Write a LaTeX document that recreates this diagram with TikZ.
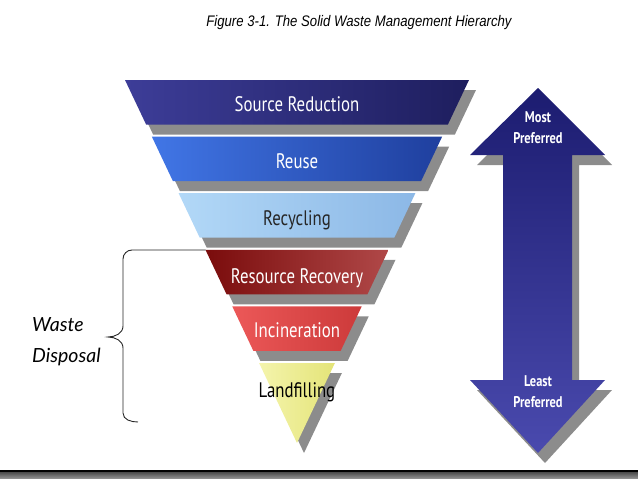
\documentclass[tikz,border=0pt]{standalone}
\usepackage{fontspec}
\setmainfont{Liberation Sans}
\newfontfamily\bandfont[FakeStretch=0.8]{PT Sans}
\newfontfamily\titlefont[FakeStretch=0.86]{Liberation Sans}
\newfontfamily\bracefont{Lato}
\usetikzlibrary{calc,positioning}
\definecolor{wmgray}{HTML}{8C8C8C}
\definecolor{srL}{HTML}{3D3D98}
\definecolor{srR}{HTML}{1E1E5E}
\definecolor{ruL}{HTML}{4176E6}
\definecolor{ruR}{HTML}{1F3F9E}
\definecolor{rcL}{HTML}{B2D8F7}
\definecolor{rcR}{HTML}{8CB8E6}
\definecolor{rrL}{HTML}{7A0C0C}
\definecolor{rrR}{HTML}{B04848}
\definecolor{inL}{HTML}{EC5858}
\definecolor{inR}{HTML}{CC3A3A}
\definecolor{lfL}{HTML}{F4F4AC}
\definecolor{lfR}{HTML}{E4E478}
\definecolor{arTop}{HTML}{1C1C70}
\definecolor{arBot}{HTML}{4A4AAE}

\begin{document}
\begin{tikzpicture}[x=1pt,y=-1pt,
   shadow/.style={fill=wmgray},
   bandtext/.style={font=\bandfont\fontsize{21}{23}\selectfont,inner sep=0pt,anchor=base},
   arrowtext/.style={font=\bandfont\bfseries\fontsize{15.5}{20.5}\selectfont,text=white,
                     align=center,inner sep=0pt,anchor=base},
   brace/.style={draw=black!85,line width=0.9pt}]
  \useasboundingbox (0,0) rectangle (638,479);
  % title
  \node[font=\titlefont\itshape\fontsize{15.3}{17}\selectfont,anchor=base] (title) at (359,27)
    {Figure 3-1. The Solid Waste Management Hierarchy};
  % hierarchy bands
  \foreach \t/\b/\lc/\rc/\tc/\ty/\name/\txt in {
      80/124.5/srL/srR/white/111.5/source/Source Reduction,
      136.6/181.1/ruL/ruR/white/168/reuse/Reuse,
      193.2/237.7/rcL/rcR/black!85/225/recycle/Recycling,
      249.8/294.3/rrL/rrR/white/283/recovery/Resource Recovery,
      306.4/350.9/inL/inR/white/337/inciner/Incineration,
      363/443/lfL/lfR/black/397/landfill/Landfilling}{
    \pgfmathsetmacro{\wt}{0.4738*(443-\t)}
    \pgfmathsetmacro{\wb}{0.4738*(443-\b)}
    \fill[shadow] (304-\wt,\t+10) -- (304+\wt,\t+10) -- (304+\wb,\b+10) -- (304-\wb,\b+10) -- cycle;
    \shade[left color=\lc,right color=\rc] (297-\wt,\t) -- (297+\wt,\t) -- (297+\wb,\b) -- (297-\wb,\b) -- cycle;
    \node[bandtext,text=\tc] (\name) at (297,\ty) {\txt};
  }
  % preference arrow
  \fill[shadow] (545,98) -- (612,165) -- (579,165) -- (579,390) -- (612,390) -- (545,463)
    -- (477,390) -- (510,390) -- (510,165) -- (477,165) -- cycle;
  \shade[top color=arTop,bottom color=arBot] (538,88) -- (605,155) -- (572,155) -- (572,380)
    -- (605,380) -- (538,453) -- (470,380) -- (503,380) -- (503,155) -- (470,155) -- cycle;
  \node[arrowtext] (most) at (538,143) {Most\\Preferred};
  \node[arrowtext] (least) at (538,407) {Least\\Preferred};
  % waste disposal brace
  \coordinate (braceTop) at (205.6,250);
  \coordinate (braceTip) at (108,337);
  \coordinate (braceEnd) at (138,422);
  \draw[brace] (braceTop) -- (132,250) to[out=180,in=90] (123,259) -- (123,326)
    to[out=-90,in=0] (braceTip) to[out=0,in=90] (123,348) -- (123,413)
    to[out=-90,in=180] (braceEnd);
  \node[font=\bracefont\itshape\fontsize{19.5}{31}\selectfont,align=left,anchor=base west,
        inner sep=0pt] (waste) at (32,362) {Waste\\Disposal};
  % footer bar
  \shade[top color=black!80,bottom color=black!40] (0,470) rectangle (638,479);
  \fill[black] (0,469.5) rectangle (638,471.5);
\end{tikzpicture}
\end{document}
